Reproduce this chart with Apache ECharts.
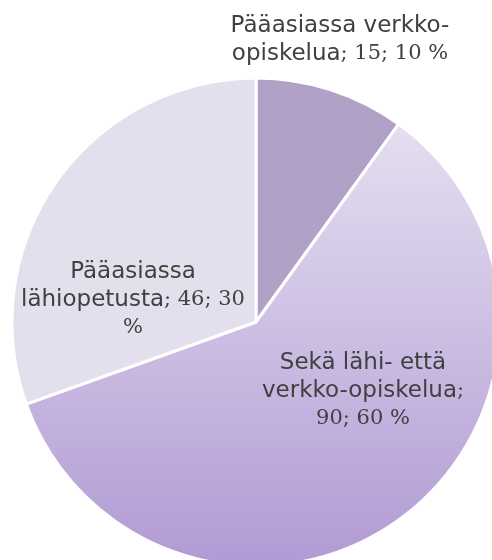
<!DOCTYPE html>
<html>
<head>
<meta charset="utf-8">
<script src="https://cdn.jsdelivr.net/npm/echarts@6/dist/echarts.min.js"></script>
<style>
  html, body { margin: 0; padding: 0; background: #fff; }
  #chart { width: 492px; height: 560px; }
</style>
</head>
<body>
<div id="chart"></div>
<script>
  // data
  const categories = ['Pääasiassa verkko-opiskelua', 'Sekä lähi- että verkko-opiskelua', 'Pääasiassa lähiopetusta'];
  const values = [15, 90, 46];

  // where each label sits (centre of the text block), same order as categories
  const labelPos = [[340, 40], [363, 391], [133, 300]];

  // line breaks as in the original: {t} = name part, {n} = numbers; %v = value, %p = percent
  const labelTemplates = [
    '{t|Pääasiassa verkko-}\n{t|opiskelua}{n|; %v; %p %}',
    '{t|Sekä lähi- että}\n{t|verkko-opiskelua}{n|;}\n{n|%v; %p %}',
    '{t|Pääasiassa}\n{t|lähiopetusta}{n|; %v; %p}\n{n|%}'
  ];

  const sliceColors = [
    '#b1a1c7',
    new echarts.graphic.LinearGradient(0, 0, 0, 1, [
      { offset: 0, color: '#e5dff0' },
      { offset: 1, color: '#b19ad4' }
    ]),
    '#e4dfec'
  ];

  const chart = echarts.init(document.getElementById('chart'));

  chart.setOption({
    animation: false,
    series: [{
      type: 'pie',
      center: [256, 322],
      radius: 244,
      startAngle: 90,
      clockwise: true,
      data: categories.map((name, i) => ({
        name: name,
        value: values[i],
        itemStyle: { color: sliceColors[i] }
      })),
      itemStyle: { borderColor: '#fff', borderWidth: 3 },
      label: {
        show: true,
        position: 'inside',
        align: 'center',
        verticalAlign: 'middle',
        formatter: params => labelTemplates[params.dataIndex]
          .replace('%v', params.value)
          .replace('%p', Math.round(params.percent)),
        rich: {
          t: { fontFamily: 'DejaVu Sans', fontSize: 23, color: '#404040', lineHeight: 28 },
          n: { fontFamily: 'DejaVu Serif', fontSize: 21, color: '#404040', lineHeight: 28 }
        }
      },
      labelLine: { show: false },
      labelLayout: params => ({
        x: labelPos[params.dataIndex][0],
        y: labelPos[params.dataIndex][1],
        align: 'center',
        verticalAlign: 'middle'
      }),
      emphasis: { disabled: true }
    }]
  });
</script>
</body>
</html>
